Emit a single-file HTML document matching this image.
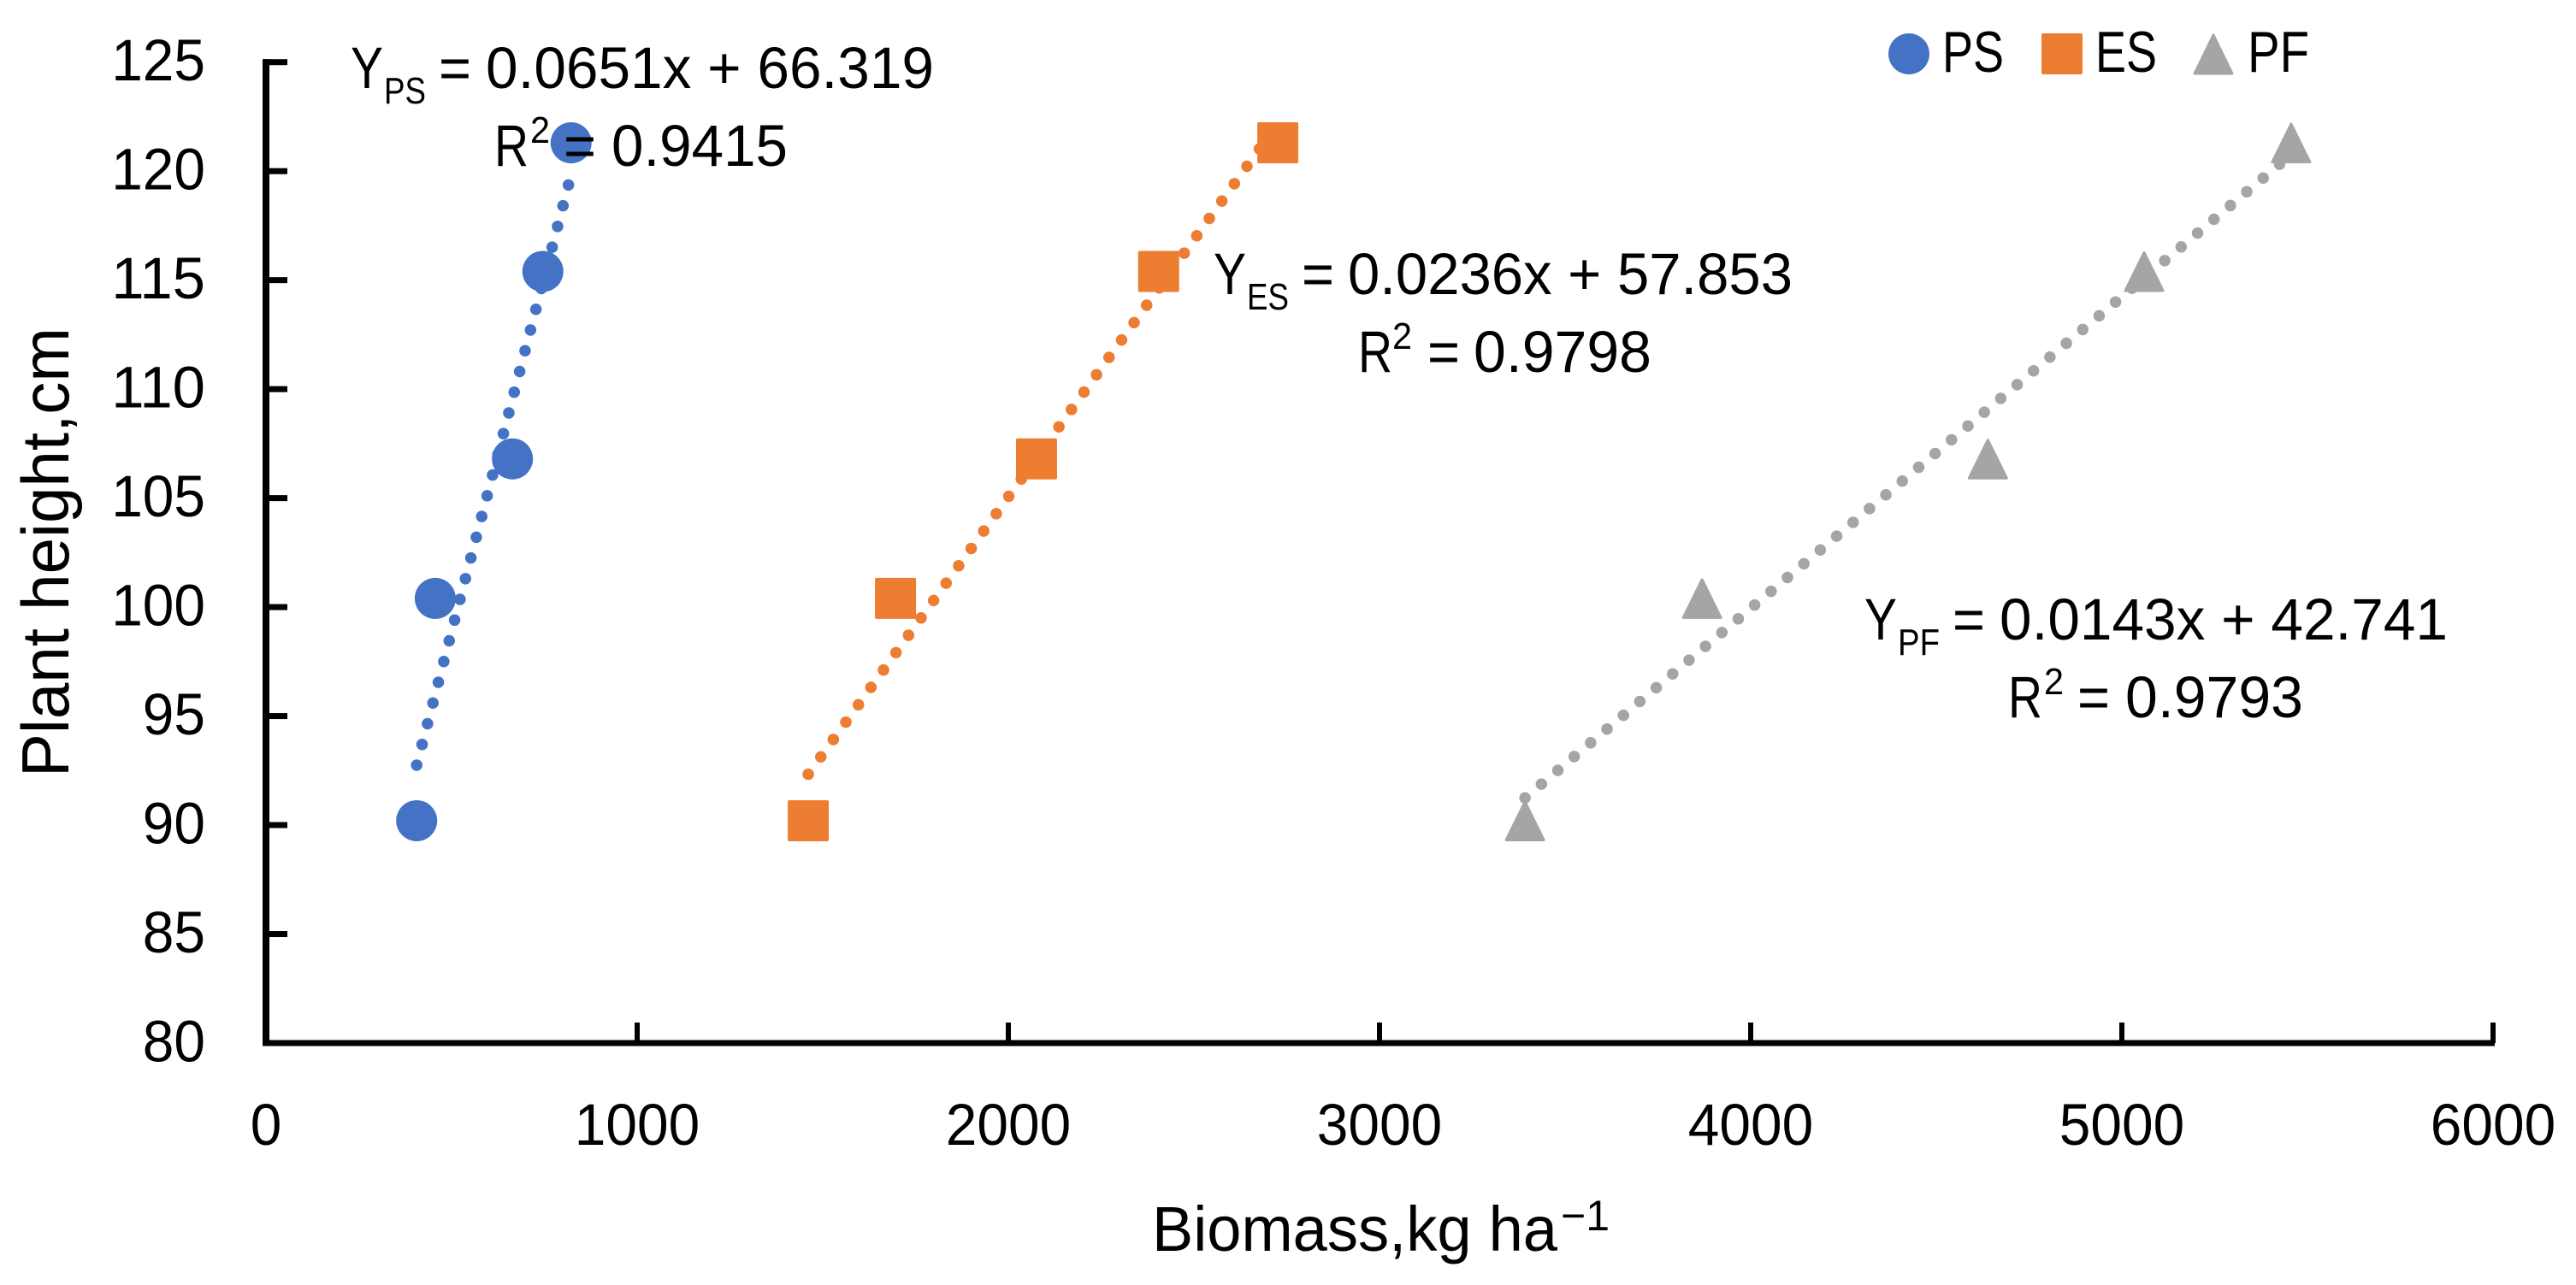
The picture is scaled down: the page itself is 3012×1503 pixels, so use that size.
<!DOCTYPE html>
<html lang="en">
<head>
<meta charset="utf-8">
<title>Plant height vs biomass</title>
<style>
html,body{margin:0;padding:0;background:#fff;}
svg{display:block;}
text{font-family:"Liberation Sans",sans-serif;fill:#000;}
</style>
</head>
<body>
<svg id="chart" xmlns="http://www.w3.org/2000/svg" width="3012" height="1503" viewBox="0 0 3012 1503">
  <rect x="0" y="0" width="3012" height="1503" fill="#fff"/>
  <g id="axes"></g>
  <g id="series"></g>

  <g>
    <text font-size="69" y="103"><tspan x="410" textLength="38" lengthAdjust="spacingAndGlyphs">Y</tspan><tspan x="449" y="121" font-size="44" textLength="49" lengthAdjust="spacingAndGlyphs">PS</tspan><tspan x="513" y="103" textLength="38" lengthAdjust="spacingAndGlyphs">=</tspan><tspan x="568" y="103" textLength="524" lengthAdjust="spacingAndGlyphs">0.0651x + 66.319</tspan></text>
    <text font-size="69" y="194"><tspan x="578" textLength="40" lengthAdjust="spacingAndGlyphs">R</tspan><tspan x="620" y="167" font-size="44" textLength="23" lengthAdjust="spacingAndGlyphs">2</tspan><tspan x="659" y="194" textLength="38" lengthAdjust="spacingAndGlyphs">=</tspan><tspan x="715" y="194" textLength="206" lengthAdjust="spacingAndGlyphs">0.9415</tspan></text>
  </g>
  <g>
    <text font-size="69" y="344"><tspan x="1419" textLength="38" lengthAdjust="spacingAndGlyphs">Y</tspan><tspan x="1458" y="362" font-size="44" textLength="49" lengthAdjust="spacingAndGlyphs">ES</tspan><tspan x="1522" y="344" textLength="38" lengthAdjust="spacingAndGlyphs">=</tspan><tspan x="1576" y="344" textLength="520" lengthAdjust="spacingAndGlyphs">0.0236x + 57.853</tspan></text>
    <text font-size="69" y="435"><tspan x="1588" textLength="40" lengthAdjust="spacingAndGlyphs">R</tspan><tspan x="1628" y="408" font-size="44" textLength="23" lengthAdjust="spacingAndGlyphs">2</tspan><tspan x="1669" y="435" textLength="38" lengthAdjust="spacingAndGlyphs">=</tspan><tspan x="1723" y="435" textLength="208" lengthAdjust="spacingAndGlyphs">0.9798</tspan></text>
  </g>
  <g>
    <text font-size="69" y="748"><tspan x="2180" textLength="38" lengthAdjust="spacingAndGlyphs">Y</tspan><tspan x="2219" y="766" font-size="44" textLength="49" lengthAdjust="spacingAndGlyphs">PF</tspan><tspan x="2283" y="748" textLength="38" lengthAdjust="spacingAndGlyphs">=</tspan><tspan x="2338" y="748" textLength="524" lengthAdjust="spacingAndGlyphs">0.0143x + 42.741</tspan></text>
    <text font-size="69" y="839"><tspan x="2348" textLength="40" lengthAdjust="spacingAndGlyphs">R</tspan><tspan x="2390" y="812" font-size="44" textLength="23" lengthAdjust="spacingAndGlyphs">2</tspan><tspan x="2429" y="839" textLength="38" lengthAdjust="spacingAndGlyphs">=</tspan><tspan x="2485" y="839" textLength="208" lengthAdjust="spacingAndGlyphs">0.9793</tspan></text>
  </g>

  <text font-size="74" y="1463"><tspan x="1347" textLength="474" lengthAdjust="spacingAndGlyphs">Biomass,kg ha</tspan><tspan x="1825" y="1439" font-size="50">−1</tspan></text>
  <text font-size="78" transform="translate(80 909) rotate(-90)" x="0" y="0" textLength="526" lengthAdjust="spacingAndGlyphs">Plant height,cm</text>

  <g>
    <g>
      <circle cx="2232" cy="63" r="24" fill="#4472C4"/>
      <text font-size="68" x="2271" y="84" textLength="72" lengthAdjust="spacingAndGlyphs">PS</text>
    </g>
    <g>
      <rect x="2387" y="39" width="48" height="48" rx="2" fill="#ED7D31"/>
      <text font-size="68" x="2450" y="84" textLength="72" lengthAdjust="spacingAndGlyphs">ES</text>
    </g>
    <g>
      <polygon points="2588,41 2610,86 2566,86" fill="#A5A5A5" stroke="#A5A5A5" stroke-width="3" stroke-linejoin="round"/>
      <text font-size="68" x="2628" y="84" textLength="72" lengthAdjust="spacingAndGlyphs">PF</text>
    </g>
  </g>
</svg>
<script>
var xTicks = [0, 1000, 2000, 3000, 4000, 5000, 6000];
var yTicks = [80, 85, 90, 95, 100, 105, 110, 115, 120, 125];
var plantHeight = [90.2, 100.4, 106.8, 115.4, 121.3];
var biomassPS = [406, 456, 664, 746, 822];
var biomassES = [1461, 1696, 2076, 2405, 2726];
var biomassPF = [3392, 3869, 4639, 5060, 5456];
var slopes = [0.0651, 0.0236, 0.0143];
var intercepts = [66.319, 57.853, 42.741];

var NS = 'http://www.w3.org/2000/svg';
var axesLayer = document.getElementById('axes');
var seriesLayer = document.getElementById('series');

function xScale(v) { return 311 + v * (2915 - 311) / 6000; }
function yScale(v) { return 1220 - (v - 80) * (1220 - 72.7) / 45; }

function make(tag, attrs, parent) {
  var el = document.createElementNS(NS, tag);
  for (var k in attrs) { el.setAttribute(k, attrs[k]); }
  parent.appendChild(el);
  return el;
}

var yAxisLine = make('rect', {x: 307, y: yScale(125) - 3.5, width: 8, height: yScale(80) - yScale(125) + 7, fill: '#000'}, axesLayer);



var xAxisLine = make('rect', {x: 307, y: yScale(80) - 3.5, width: xScale(6000) - 307 + 2, height: 7, fill: '#000'}, axesLayer);



yTicks.forEach(function (t) {
  var tick = make('rect', {x: 307, y: yScale(t) - 3.5, width: 29, height: 7, fill: '#000'}, axesLayer);
  
  
  var label = make('text', {x: 240, y: yScale(t) + 21.5, 'font-size': 69, 'text-anchor': 'end', textLength: String(t).length * 36.6, lengthAdjust: 'spacingAndGlyphs'}, axesLayer);
  label.textContent = String(t);
  
  
});

xTicks.forEach(function (t) {
  var tick = make('rect', {x: xScale(t) - 3, y: yScale(80) - 24, width: 6, height: 24, fill: '#000'}, axesLayer);
  
  
  var label = make('text', {x: xScale(t), y: 1339, 'font-size': 69, 'text-anchor': 'middle', textLength: String(t).length * 36.6, lengthAdjust: 'spacingAndGlyphs'}, axesLayer);
  label.textContent = String(t);
  
  
});

function drawMarker(kind, cx, cy, color) {
  var m;
  if (kind === 'circle') {
    m = make('circle', {cx: cx, cy: cy, r: 24, fill: color}, seriesLayer);
  } else if (kind === 'square') {
    m = make('rect', {x: cx - 24, y: cy - 24, width: 48, height: 48, rx: 2, fill: color}, seriesLayer);
  } else {
    m = make('polygon', {
      points: cx + ',' + (cy - 22) + ' ' + (cx + 22) + ',' + (cy + 22.5) + ' ' + (cx - 22) + ',' + (cy + 22.5),
      fill: color, stroke: color, 'stroke-width': 3, 'stroke-linejoin': 'round'
    }, seriesLayer);
  }
  return m;
}

function drawSeries(key, biomass, kind, color, index) {
  biomass.forEach(function (b, i) {
    var marker = drawMarker(kind, xScale(b), yScale(plantHeight[i]), color);
    
    
  });
  var minX = Math.min.apply(null, biomass);
  var maxX = Math.max.apply(null, biomass);
  var trend = make('line', {
    x1: xScale(minX),
    y1: yScale(slopes[index] * minX + intercepts[index]),
    x2: xScale(maxX),
    y2: yScale(slopes[index] * maxX + intercepts[index]),
    stroke: color,
    'stroke-width': 13.5,
    'stroke-linecap': 'round',
    'stroke-dasharray': '0 25.05'
  }, seriesLayer);
  
  
}

drawSeries('ps', biomassPS, 'circle', '#4472C4', 0);
drawSeries('es', biomassES, 'square', '#ED7D31', 1);
drawSeries('pf', biomassPF, 'triangle', '#A5A5A5', 2);
</script>
</body>
</html>
